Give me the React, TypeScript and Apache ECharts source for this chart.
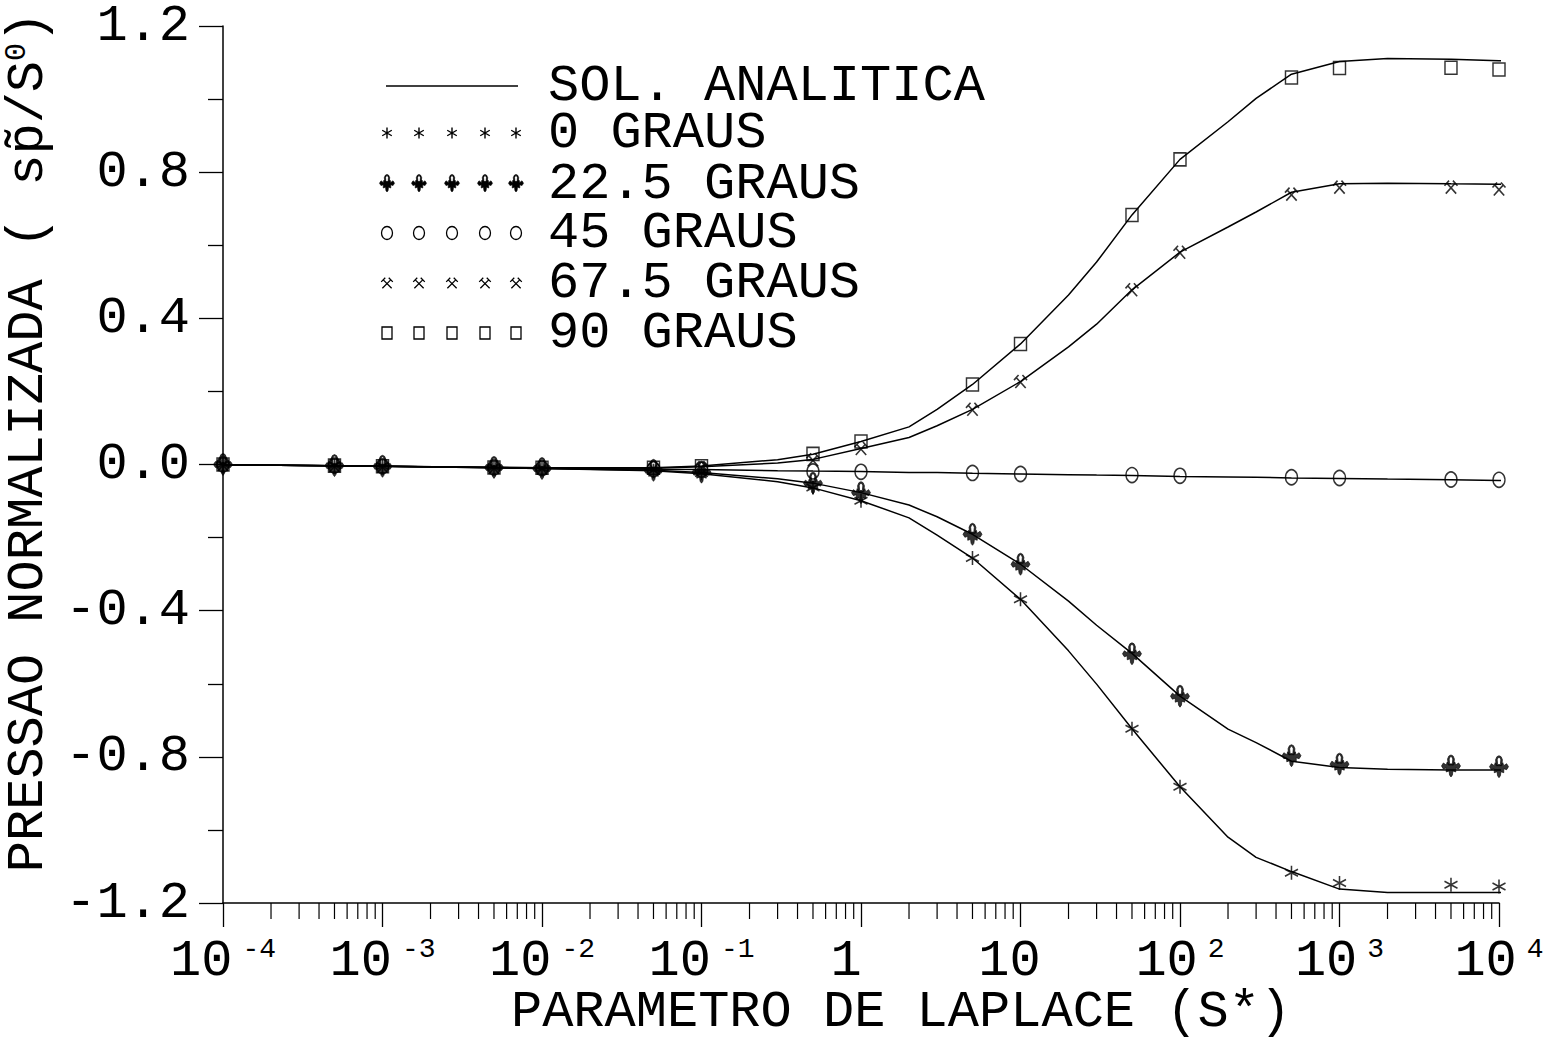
import React, { useEffect, useRef } from 'react';
import * as echarts from 'echarts';

const FONT = '"Liberation Mono", "DejaVu Sans Mono", monospace';

// ---- data ----
const markerX = [1e-4, 5e-4, 1e-3, 5e-3, 1e-2, 5e-2, 0.1, 0.5, 1, 5, 10, 50, 100, 500, 1000, 5000, 10000];
const marks0 = [0, -0.003, -0.005, -0.008, -0.011, -0.017, -0.023, -0.063, -0.099, -0.256, -0.369, -0.723, -0.882, -1.117, -1.145, -1.15, -1.155];
const marks22 = [0, -0.003, -0.005, -0.008, -0.011, -0.016, -0.021, -0.051, -0.077, -0.191, -0.273, -0.518, -0.634, -0.797, -0.82, -0.825, -0.827];
const marks45 = [0, -0.003, -0.005, -0.008, -0.01, -0.013, -0.014, -0.019, -0.02, -0.023, -0.026, -0.029, -0.031, -0.035, -0.037, -0.041, -0.042];
const marks67 = [0, -0.003, -0.005, -0.008, -0.009, -0.01, -0.008, 0.013, 0.044, 0.151, 0.227, 0.478, 0.581, 0.74, 0.759, 0.759, 0.754];
const marks90 = [0, -0.003, -0.005, -0.008, -0.009, -0.009, -0.005, 0.029, 0.063, 0.219, 0.33, 0.683, 0.835, 1.059, 1.085, 1.086, 1.081];

const curveX = [7e-5, 1e-3, 1e-2, 0.05, 0.1, 0.3, 0.5, 1, 2, 3, 5, 10, 20, 30, 50, 100, 200, 300, 500, 1000, 2000, 5000, 10000, 1.5e4];
const sol0 = [0, -0.005, -0.011, -0.017, -0.025, -0.047, -0.064, -0.099, -0.146, -0.193, -0.256, -0.369, -0.51, -0.601, -0.723, -0.882, -1.02, -1.075, -1.114, -1.162, -1.171, -1.171, -1.171, -1.172];
const sol22 = [0, -0.005, -0.011, -0.016, -0.022, -0.039, -0.051, -0.077, -0.111, -0.143, -0.191, -0.273, -0.374, -0.44, -0.517, -0.634, -0.724, -0.761, -0.812, -0.829, -0.834, -0.836, -0.836, -0.837];
const sol45 = [0, -0.005, -0.01, -0.013, -0.014, -0.017, -0.018, -0.019, -0.022, -0.022, -0.024, -0.026, -0.028, -0.029, -0.03, -0.033, -0.034, -0.035, -0.037, -0.038, -0.04, -0.042, -0.044, -0.045];
const sol67 = [0, -0.005, -0.009, -0.01, -0.006, 0.004, 0.014, 0.044, 0.074, 0.106, 0.151, 0.227, 0.322, 0.384, 0.478, 0.581, 0.65, 0.691, 0.745, 0.768, 0.77, 0.768, 0.767, 0.764];
const sol90 = [0, -0.005, -0.009, -0.009, -0.004, 0.013, 0.028, 0.063, 0.103, 0.151, 0.219, 0.33, 0.464, 0.554, 0.683, 0.835, 0.938, 1.002, 1.068, 1.103, 1.111, 1.109, 1.105, 1.101];

const xLabelBase = ['10', '10', '10', '10', '1', '10', '10', '10', '10'];
const xLabelExp = ['-4', '-3', '-2', '-1', '', '', '2', '3', '4'];
const yTickLabels = ['-1.2', '-0.8', '-0.4', '0.0', '0.4', '0.8', '1.2'];
const legendLabels = ['SOL. ANALITICA', '0 GRAUS', '22.5 GRAUS', '45 GRAUS', '67.5 GRAUS', '90 GRAUS'];
const xTitle = 'PARAMETRO DE LAPLACE (S*)';
const yTitle = 'PRESSAO NORMALIZADA ( sp\u0303/S{s|0})';

const xMinorTicks: number[] = [];
for (let e = -4; e < 4; e++) {
  for (let m = 2; m <= 9; m++) xMinorTicks.push(m * Math.pow(10, e));
}

// ---- marker shapes ----
const STAR_D = 'M0,-10L0,10M-8.7,-5L8.7,5M-8.7,5L8.7,-5';
const HAMMER_D = 'M-6,-5L8,9M6,-5L-8,9M-10,-2L-3,-9M3,-9L10,-2';
const FLEUR_D =
  'M-3,-2L-3.6,-8L-2.2,-11L0,-12L2.2,-11L3.6,-8L3,-2Z' +
  'M-1.4,-3L1.4,-3L1.9,-8L1,-10L0,-10.5L-1,-10L-1.9,-8Z' +
  'M-10,-1L-8,-4L-5,-2L-4,-5L-2,-2L0,-3L2,-2L4,-5L5,-2L8,-4L10,-1L8,2L5,1L5,5L2,4L1.5,8L0,10L-1.5,8L-2,4L-5,5L-5,1L-8,2Z';

echarts.graphic.registerShape('lgStar', echarts.graphic.extendPath(STAR_D, {}) as any);
echarts.graphic.registerShape('lgHammer', echarts.graphic.extendPath(HAMMER_D, {}) as any);
echarts.graphic.registerShape('lgFleur', echarts.graphic.extendPath(FLEUR_D, {}) as any);

function zip(xs: number[], ys: number[]) {
  return xs.map((x, i) => [x, ys[i]]);
}

function buildOption() {
  const lineSeries = [sol0, sol22, sol45, sol67, sol90].map((s) => ({
    type: 'line',
    data: zip(curveX, s),
    showSymbol: false,
    clip: false,
    smooth: false,
    silent: true,
    z: 2,
    lineStyle: { color: '#000', width: 1.5 },
  }));

  const strokeStyle = { color: '#000', borderColor: '#000', borderWidth: 1.6 };
  const hollowStyle = { color: 'rgba(255,255,255,0)', borderColor: '#000', borderWidth: 1.5 };
  const scatterDefs = [
    { data: marks0, symbol: 'path://' + STAR_D, size: [13, 14], style: strokeStyle },
    { data: marks22, symbol: 'path://' + FLEUR_D, size: [19, 22], style: { color: '#000', borderColor: '#000', borderWidth: 0.8 } },
    { data: marks45, symbol: 'circle', size: [12, 15], style: hollowStyle },
    { data: marks67, symbol: 'path://' + HAMMER_D, size: [13, 13], style: strokeStyle },
    { data: marks90, symbol: 'rect', size: [12, 13], style: hollowStyle },
  ];
  const scatterSeries = scatterDefs.map((d) => ({
    type: 'scatter',
    data: zip(markerX, d.data),
    symbol: d.symbol,
    symbolSize: d.size,
    clip: false,
    silent: true,
    z: 3,
    itemStyle: d.style,
  }));

  const minorTickSeries = {
    type: 'custom',
    silent: true,
    clip: false,
    data: xMinorTicks.map((v) => [v, -1.2]),
    renderItem: (params: any, api: any) => {
      const p = api.coord([api.value(0), api.value(1)]);
      return {
        type: 'line',
        shape: { x1: p[0], y1: p[1], x2: p[0], y2: p[1] + 16 },
        style: { stroke: '#000', lineWidth: 1.2 },
      };
    },
  };

  // legend drawn as graphics
  const legendX = [387, 419, 452, 485, 516];
  const legendY = [86, 133, 184, 233, 283, 333];
  const graphics: any[] = [];
  graphics.push({
    type: 'line',
    shape: { x1: 386, y1: legendY[0], x2: 518, y2: legendY[0] },
    style: { stroke: '#000', lineWidth: 1.5 },
  });
  legendLabels.forEach((t, i) => {
    graphics.push({
      type: 'text',
      x: 548,
      y: legendY[i],
      style: { text: t, fontSize: 52, lineHeight: 42, fontFamily: FONT, fill: '#000', align: 'left', verticalAlign: 'middle' },
    });
  });
  for (let r = 1; r <= 5; r++) {
    const y = legendY[r];
    legendX.forEach((x) => {
      if (r === 1) {
        graphics.push({ type: 'lgStar', x, y, scaleX: 0.55, scaleY: 0.55, style: { fill: null, stroke: '#000', lineWidth: 1.4, strokeNoScale: true } });
      } else if (r === 2) {
        graphics.push({ type: 'lgFleur', x, y, scaleX: 0.75, scaleY: 0.8, style: { fill: '#000', stroke: '#000', lineWidth: 0.6, strokeNoScale: true } });
      } else if (r === 3) {
        graphics.push({ type: 'ellipse', shape: { cx: x, cy: y, rx: 5.5, ry: 6.5 }, style: { fill: 'none', stroke: '#000', lineWidth: 1.3 } });
      } else if (r === 4) {
        graphics.push({ type: 'lgHammer', x, y, scaleX: 0.58, scaleY: 0.58, style: { fill: null, stroke: '#000', lineWidth: 1.3, strokeNoScale: true } });
      } else {
        graphics.push({ type: 'rect', shape: { x: x - 5, y: y - 6, width: 10, height: 12 }, style: { fill: 'none', stroke: '#000', lineWidth: 1.3 } });
      }
    });
  }
  graphics.push({
    type: 'text',
    x: 901,
    y: 1012,
    style: { text: xTitle, fontSize: 52, lineHeight: 42, fontFamily: FONT, fill: '#000', align: 'center', verticalAlign: 'middle' },
  });
  graphics.push({
    type: 'text',
    x: 28,
    y: 442,
    rotation: Math.PI / 2,
    style: {
      text: yTitle,
      fontSize: 52,
      fontFamily: FONT,
      fill: '#000',
      align: 'center',
      verticalAlign: 'middle',
      rich: { s: { fontSize: 30, fontFamily: FONT, fill: '#000', verticalAlign: 'top' } },
    },
  });

  return {
    animation: false,
    backgroundColor: '#fff',
    grid: { left: 223, right: 53, top: 23, bottom: 139, containLabel: false },
    xAxis: {
      type: 'log',
      logBase: 10,
      min: 1e-4,
      max: 1e4,
      axisLine: { show: true, onZero: false, lineStyle: { color: '#000', width: 1.5 } },
      axisTick: { show: true, length: 24, lineStyle: { color: '#000', width: 1.3 } },
      splitLine: { show: false },
      minorTick: { show: false },
      axisLabel: {
        show: true,
        margin: 32,
        color: '#000',
        formatter: (v: number) => {
          const i = Math.round(Math.log10(v)) + 4;
          const b = xLabelBase[i];
          const e = xLabelExp[i];
          if (e) return `{b|${b}}{e|${e}}`;
          return i === 4 ? `{one|${b}}` : `{ten|${b}}`;
        },
        rich: {
          b: { fontSize: 52, fontFamily: FONT, color: '#000', lineHeight: 40, padding: [12, 0, 0, 0] },
          e: { fontSize: 28, fontFamily: FONT, color: '#000', lineHeight: 24, verticalAlign: 'top', padding: [0, 0, 0, 10] },
          one: { fontSize: 52, fontFamily: FONT, color: '#000', lineHeight: 40, padding: [12, 30, 0, 0] },
          ten: { fontSize: 52, fontFamily: FONT, color: '#000', lineHeight: 40, padding: [12, 22, 0, 0] },
        },
      },
    },
    yAxis: {
      type: 'value',
      min: -1.2,
      max: 1.2,
      interval: 0.4,
      axisLine: { show: true, onZero: false, lineStyle: { color: '#000', width: 1.5 } },
      axisTick: { show: true, length: 24, lineStyle: { color: '#000', width: 1.3 } },
      minorTick: { show: true, splitNumber: 2, length: 15, lineStyle: { color: '#000', width: 1.3 } },
      splitLine: { show: false },
      minorSplitLine: { show: false },
      axisLabel: {
        margin: 33,
        color: '#000',
        fontSize: 52,
        lineHeight: 40,
        fontFamily: FONT,
        formatter: (v: number, idx: number) => yTickLabels[idx] ?? v.toFixed(1),
      },
    },
    series: [...lineSeries, ...scatterSeries, minorTickSeries],
    graphic: graphics,
  };
}

export default function App() {
  const ref = useRef<HTMLDivElement>(null);
  useEffect(() => {
    if (!ref.current) return;
    const chart = echarts.init(ref.current, null, { renderer: 'svg' });
    chart.setOption(buildOption() as any);
    return () => chart.dispose();
  }, []);
  return (
    <div
      ref={ref}
      style={{ position: 'absolute', left: 0, top: 0, width: 1552, height: 1042, background: '#fff' }}
    />
  );
}
